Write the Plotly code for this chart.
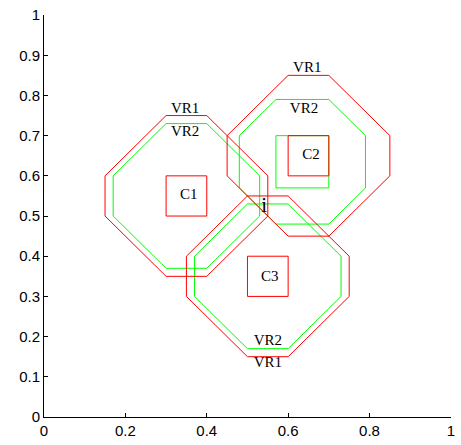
import plotly.graph_objects as go

# ---- data ----
centre_names = ["C1", "C2", "C3"]
sq_x0 = [0.30, 0.60, 0.50]
sq_x1 = [0.40, 0.70, 0.60]
sq_y0 = [0.50, 0.60, 0.30]
sq_y1 = [0.60, 0.70, 0.40]

# VR1 regions (red): square grown by L1 radius
vr1_radius = [0.15, 0.15, 0.15]

# VR2 regions (green): base squares and L1 radius
vr2_x0 = [0.30, 0.57, 0.50]
vr2_x1 = [0.40, 0.70, 0.60]
vr2_y0 = [0.50, 0.57, 0.30]
vr2_y1 = [0.60, 0.70, 0.40]
vr2_radius = [0.13, 0.09, 0.13]

# extra green square around C2
green_sq_x0 = [0.57]
green_sq_x1 = [0.70]
green_sq_y0 = [0.57]
green_sq_y1 = [0.70]

# labels
label_text = ["VR1", "VR2", "C1", "VR1", "VR2", "C2", "C3", "VR2", "VR1"]
label_x = [0.347, 0.347, 0.356, 0.647, 0.639, 0.656, 0.555, 0.550, 0.550]
label_y = [0.766, 0.708, 0.551, 0.867, 0.766, 0.651, 0.348, 0.189, 0.133]

point_label = ["i"]
point_x = [0.541]
point_y = [0.522]

x_ticks = [0, 0.2, 0.4, 0.6, 0.8, 1]
x_tick_labels = ["0", "0.2", "0.4", "0.6", "0.8", "1"]
y_ticks = [0, 0.1, 0.2, 0.3, 0.4, 0.5, 0.6, 0.7, 0.8, 0.9, 1]
y_tick_labels = ["0", "0.1", "0.2", "0.3", "0.4", "0.5", "0.6", "0.7", "0.8", "0.9", "1"]

RED = "#ff0000"
GREEN = "#00ff00"
SERIF = "Liberation Serif, Times New Roman, serif"


def square(x0, x1, y0, y1):
    return [x0, x1, x1, x0, x0], [y0, y0, y1, y1, y0]


def octagon(x0, x1, y0, y1, r):
    xs = [x0, x1, x1 + r, x1 + r, x1, x0, x0 - r, x0 - r, x0]
    ys = [y1 + r, y1 + r, y1, y0, y0 - r, y0 - r, y0, y1, y1 + r]
    return xs, ys


fig = go.Figure()

# green regions
for i in range(3):
    xs, ys = octagon(vr2_x0[i], vr2_x1[i], vr2_y0[i], vr2_y1[i], vr2_radius[i])
    fig.add_trace(go.Scatter(x=xs, y=ys, mode="lines",
                             line=dict(color=GREEN, width=1), hoverinfo="skip"))
for i in range(len(green_sq_x0)):
    xs, ys = square(green_sq_x0[i], green_sq_x1[i], green_sq_y0[i], green_sq_y1[i])
    fig.add_trace(go.Scatter(x=xs, y=ys, mode="lines",
                             line=dict(color=GREEN, width=1), hoverinfo="skip"))

# red regions
for i in range(3):
    xs, ys = octagon(sq_x0[i], sq_x1[i], sq_y0[i], sq_y1[i], vr1_radius[i])
    fig.add_trace(go.Scatter(x=xs, y=ys, mode="lines",
                             line=dict(color=RED, width=1), hoverinfo="skip"))
    xs, ys = square(sq_x0[i], sq_x1[i], sq_y0[i], sq_y1[i])
    fig.add_trace(go.Scatter(x=xs, y=ys, mode="lines",
                             line=dict(color=RED, width=1), hoverinfo="skip"))

fig.add_trace(go.Scatter(
    x=label_x, y=label_y, text=label_text, mode="text",
    textposition="middle center",
    textfont=dict(family=SERIF, size=15, color="black"),
    hoverinfo="skip"))

fig.add_trace(go.Scatter(
    x=point_x, y=point_y, text=point_label, mode="text",
    textposition="middle center",
    textfont=dict(family=SERIF, size=21, color="black"),
    hoverinfo="skip"))

axis_common = dict(
    showgrid=False, zeroline=False, showline=True,
    linecolor="black", linewidth=1, ticks="inside", ticklen=4,
    tickcolor="black", mirror=False, ticklabeloverflow="allow",
    tickfont=dict(family="Liberation Sans, Arial, sans-serif", size=15, color="black"),
)

fig.update_layout(
    width=461, height=445,
    margin=dict(l=44, r=6, t=7, b=27),
    paper_bgcolor="white", plot_bgcolor="white",
    showlegend=False,
    xaxis=dict(range=[0, 1.0002], tickvals=x_ticks, ticktext=x_tick_labels, **axis_common),
    yaxis=dict(range=[0, 1.0002], tickvals=y_ticks, ticktext=y_tick_labels, **axis_common),
)

fig.write_html("out.html",
               config={"displayModeBar": False},
               post_script="document.body.style.margin='0';document.body.style.overflow='hidden';")
